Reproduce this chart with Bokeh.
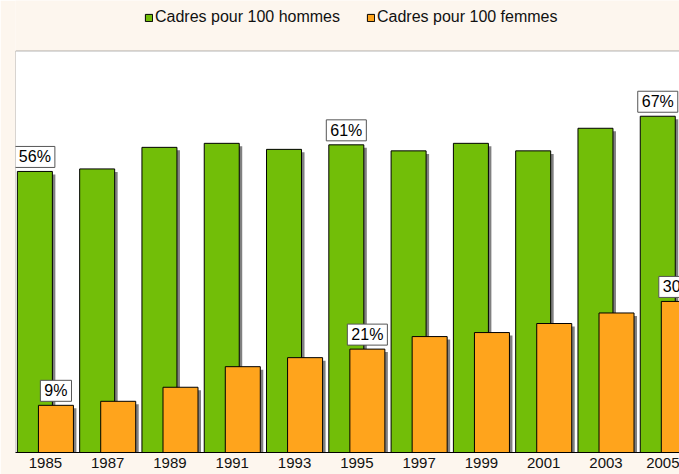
from bokeh.plotting import figure
from bokeh.models import (ColumnDataSource, Legend, LegendItem,
                          FixedTicker, Range1d, BoxAnnotation)
from bokeh.core.properties import value
from bokeh.transform import dodge
from bokeh.embed import file_html
from bokeh.resources import INLINE

years = ["1985", "1987", "1989", "1991", "1993", "1995", "1997", "1999", "2001", "2003", "2005"]
hommes = [56.0, 56.5, 60.8, 61.6, 60.4, 61.3, 60.1, 61.6, 60.1, 64.6, 67.0]
femmes = [9.4, 10.2, 13.0, 17.1, 18.9, 20.6, 23.1, 23.9, 25.7, 27.8, 30.1]
label_years = ["1985", "1995", "2005"]
hommes_labels = ["56%", "61%", "67%"]
femmes_labels = ["9%", "21%", "30%"]
y_max = 80

GREEN = "#72BE08"
ORANGE = "#FFA41C"
SHADOW = "#808080"
BG = "#FDF6EE"
FONT = "Liberation Sans"

idx = list(range(len(years)))
src = ColumnDataSource(dict(
    x=idx, hommes=hommes, femmes=femmes,
    hs=[v - 0.6 for v in hommes], fs=[v - 0.6 for v in femmes],
))
lidx = [years.index(y) for y in label_years]
lsrc_h = ColumnDataSource(dict(x=lidx, y=[hommes[i] for i in lidx], t=hommes_labels))
lsrc_f = ColumnDataSource(dict(x=lidx, y=[femmes[i] for i in lidx], t=femmes_labels))

# frame spans from the top of the page; the plot area is a white box up to y_max
p = figure(width=679, height=474, output_backend="svg", toolbar_location=None,
           x_range=Range1d(-0.48, 10.18), y_range=Range1d(0, 90.06),
           y_axis_location=None,
           min_border_left=15, min_border_right=0, min_border_top=0,
           min_border_bottom=22)
p.background_fill_color = BG
p.border_fill_color = BG
p.outline_line_color = None
p.grid.visible = False

p.add_layout(BoxAnnotation(top=y_max, fill_color="white", fill_alpha=1,
                           line_color="black", line_width=1, level="underlay"))

W = 0.562
OFF = 0.169
SH = 0.048

p.vbar(x=dodge("x", -OFF + SH), top="hs", bottom=0, width=W, source=src,
       fill_color=SHADOW, line_color=None)
gr = p.vbar(x=dodge("x", -OFF), top="hommes", bottom=0, width=W, source=src,
            fill_color=GREEN, line_color="black", line_width=1)
p.vbar(x=dodge("x", OFF + SH), top="fs", bottom=0, width=W, source=src,
       fill_color=SHADOW, line_color=None)
orr = p.vbar(x=dodge("x", OFF), top="femmes", bottom=0, width=W, source=src,
             fill_color=ORANGE, line_color="black", line_width=1)

for ls, off in ((lsrc_h, -OFF), (lsrc_f, OFF)):
    p.text(x=dodge("x", off), y="y", text="t", source=ls,
           text_align="center", text_baseline="bottom", y_offset=-4,
           text_font=value(FONT), text_font_size="16px", text_color="black",
           background_fill_color="white", border_line_color="#555555",
           border_line_width=1, padding=(4, 2))

p.xaxis.ticker = FixedTicker(ticks=idx)
p.xaxis.major_label_overrides = {i: y for i, y in zip(idx, years)}
p.xaxis.major_tick_line_color = None
p.xaxis.minor_tick_line_color = None
p.xaxis.major_tick_out = 0
p.xaxis.major_tick_in = 0
p.xaxis.major_label_standoff = 5
p.xaxis.major_label_text_font = FONT
p.xaxis.major_label_text_font_size = "15px"
p.xaxis.major_label_text_color = "#111111"
p.xaxis.axis_line_color = "black"

legend = Legend(items=[LegendItem(label="Cadres pour 100 hommes", renderers=[gr]),
                       LegendItem(label="Cadres pour 100 femmes", renderers=[orr])],
                orientation="horizontal", location=(129, 426),
                glyph_width=9, glyph_height=9, label_standoff=2, spacing=26,
                label_text_font=FONT, label_text_font_size="16px",
                label_text_color="#111111", label_height=16,
                background_fill_alpha=0, border_line_color=None,
                padding=0, margin=0)
p.add_layout(legend)

open("out.html", "w").write(file_html(p, INLINE))
